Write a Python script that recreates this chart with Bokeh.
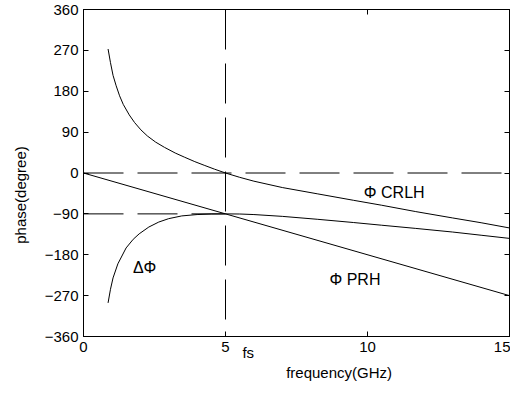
import math
from bokeh.plotting import figure
from bokeh.models import (Span, Label, LinearAxis, FixedTicker, Range1d,
                          CustomLabelingPolicy)
from bokeh.embed import file_html
from bokeh.resources import INLINE

# ---- data ----
freq_crlh = [0.865, 0.95, 1.04, 1.15, 1.27, 1.4, 1.61, 1.8, 2.02, 2.25, 2.54, 2.85,
             3.23, 3.55, 3.92, 4.25, 4.61, 5.0, 5.5, 6.0, 7.0, 8.25, 9.5, 10.5,
             11.7, 13.0, 14.0, 15.0]
phase_crlh = [273, 243, 215, 192, 170, 151, 128, 111, 95, 81.5, 68, 56.5,
              44, 35, 25, 17, 8.5, 0, -9.5, -18, -32, -46, -60, -71,
              -85, -99, -109.5, -121]

freq_delta = [0.865, 0.95, 1.04, 1.21, 1.5, 1.75, 1.96, 2.3, 2.65, 3.0, 3.46, 4.0,
              4.5, 5.0, 5.5, 6.0, 7.0, 8.25, 9.5, 10.5, 11.7, 13.0, 14.0, 15.0]
phase_delta = [-286, -256, -231, -200, -165, -146, -134, -119, -108, -100.5, -94.5, -91.5,
               -90.3, -90, -90.3, -91.5, -95.5, -102, -109, -115, -122, -130, -137, -144]

freq_prh = [0, 15]
phase_prh = [0, -270]

fs = 5.0              # GHz, crossing frequency
phase_ref = [0, -90]  # dashed reference levels

x_ticks = [0, 5, 10, 15]
y_ticks = [-360, -270, -180, -90, 0, 90, 180, 270, 360]

x_title = "frequency(GHz)"
y_title = "phase(degree)"

FONT = "Liberation Sans"

p = figure(width=510, height=383, output_backend="svg", toolbar_location=None,
           x_range=Range1d(0, 15), y_range=Range1d(-360, 360),
           min_border_left=74, min_border_right=1, min_border_top=9,
           min_border_bottom=0)
p.background_fill_color = "white"
p.border_fill_color = "white"
p.outline_line_color = "black"
p.outline_line_width = 1
p.grid.visible = False

hide_labels = CustomLabelingPolicy(code="""
try { for (const i of Array.from(indices)) indices.unset(i) } catch (e) {}
return indices
""")

def style_axis(ax, labels=True):
    ax.axis_line_color = "black"
    ax.major_tick_line_color = "black"
    ax.major_tick_in = 5
    ax.major_tick_out = 0
    ax.minor_tick_line_color = None
    ax.major_label_text_font = FONT
    ax.major_label_text_color = "black"
    ax.axis_label_text_font = FONT
    ax.axis_label_text_font_style = "normal"
    ax.axis_label_text_color = "black"
    if labels:
        ax.major_label_text_font_size = "15px"
        ax.axis_label_text_font_size = "15px"
    else:
        ax.major_label_text_font_size = "0px"
        ax.major_label_standoff = 0
        ax.axis_label_standoff = 0
        ax.major_label_policy = hide_labels

def text_axis(tick, text, standoff, orientation="horizontal"):
    # an axis that only carries one text (no line, no tick mark)
    ax = LinearAxis(ticker=FixedTicker(ticks=[tick]),
                    major_label_overrides={tick: text})
    style_axis(ax)
    ax.axis_line_color = None
    ax.major_tick_line_color = None
    ax.major_tick_in = 0
    ax.major_label_standoff = standoff
    ax.major_label_orientation = orientation
    return ax

p.xaxis.ticker = FixedTicker(ticks=x_ticks)
p.yaxis.ticker = FixedTicker(ticks=y_ticks)
style_axis(p.xaxis[0])
style_axis(p.yaxis[0])
p.xaxis.major_label_standoff = 5
p.yaxis.major_label_standoff = 5

# "fs" mark and the axis titles, placed like the reference's
p.add_layout(text_axis(fs + 0.8, "fs", -11), "below")
p.add_layout(text_axis(9.0, x_title, 0), "below")
p.add_layout(text_axis(59, y_title, 21, math.pi / 2), "left")

ax_r = LinearAxis(ticker=FixedTicker(ticks=y_ticks))
style_axis(ax_r, labels=False)
p.add_layout(ax_r, "right")
ax_t = LinearAxis(ticker=FixedTicker(ticks=x_ticks))
style_axis(ax_t, labels=False)
p.add_layout(ax_t, "above")

DASH = "40 14"
# dashed reference lines
p.add_layout(Span(location=fs, dimension="height", line_color="black",
                  line_width=1, line_dash=DASH))
p.add_layout(Span(location=phase_ref[0], dimension="width", line_color="black",
                  line_width=1, line_dash=DASH))
p.segment(x0=[0], y0=[phase_ref[1]], x1=[fs], y1=[phase_ref[1]],
          line_color="black", line_width=1, line_dash=DASH)

# curves
p.line(freq_crlh, phase_crlh, line_color="black", line_width=1)
p.line(freq_delta, phase_delta, line_color="black", line_width=1)
p.line(freq_prh, phase_prh, line_color="black", line_width=1)

# annotations
for txt, xx, yy in [("\u03a6 CRLH", 9.87, -42), ("\u03a6 PRH", 8.66, -235),
                    ("\u0394\u03a6", 1.74, -207)]:
    p.add_layout(Label(x=xx, y=yy, text=txt, text_font=FONT,
                       text_font_size="16px", text_color="black",
                       text_baseline="middle", text_align="left"))

open("out.html", "w").write(file_html(p, INLINE))
